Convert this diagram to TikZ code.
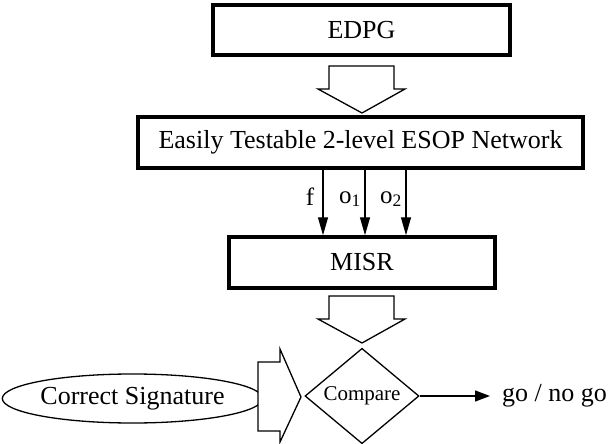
\documentclass[tikz,border=0pt]{standalone}
\usepackage{fontspec}
\setmainfont{Liberation Serif}
\usetikzlibrary{arrows.meta,shapes.geometric}

\tikzset{
  blockbox/.style={draw, line width=3.5pt, rectangle, inner sep=0pt,
    font=\fontsize{26}{30}\selectfont},
  thinline/.style={line width=1.3pt},
  hollow/.style={draw, line width=1.3pt, fill=white, line join=miter},
  sigarrow/.style={line width=1.3pt, -{Triangle[length=18pt,width=10pt]}},
  outarrow/.style={line width=1.3pt, -{Triangle[length=15pt,width=11pt]}},
  siglabel/.style={font=\fontsize{25}{29}\selectfont, inner sep=0pt},
  bigtext/.style={font=\fontsize{26}{30}\selectfont},
}

\begin{document}
\begin{tikzpicture}[x=1pt, y=-1pt]
  \useasboundingbox (0,0) rectangle (616,444);

  % main processing chain
  \node[blockbox, minimum width=297pt, minimum height=50pt] (edpg) at (361.5,30) {EDPG};
  \node[blockbox, minimum width=445pt, minimum height=51pt] (esop) at (360.5,142.5)
    {Easily Testable 2-level ESOP Network};
  \node[blockbox, minimum width=266pt, minimum height=51pt] (misr) at (362,262.5) {MISR};

  % hollow block arrow EDPG -> ESOP network
  \draw[hollow] (329,66) -- (394,66) -- (394,89) -- (405,89) -- (362,113)
    -- (318,89) -- (329,89) -- cycle;

  % output lines f, o1, o2 into the MISR
  \draw[sigarrow] (esop.south -| 323,0) -- (misr.north -| 323,0);
  \draw[sigarrow] (esop.south -| 365,0) -- (misr.north -| 365,0);
  \draw[sigarrow] (esop.south -| 406,0) -- (misr.north -| 406,0);
  \node[siglabel] (lf) at (310,197) {f};
  \node[siglabel] (lo1) at (350,199) {o\textsubscript{1}};
  \node[siglabel] (lo2) at (391,199) {o\textsubscript{2}};

  % hollow block arrow MISR -> comparator
  \draw[hollow] (329,296) -- (394,296) -- (394,319) -- (405,319) -- (362,343)
    -- (318,319) -- (329,319) -- cycle;

  % comparator and reference signature
  \node[draw, thinline, diamond, minimum width=114pt, minimum height=92pt,
        inner sep=0pt, font=\fontsize{21}{25}\selectfont] (cmp) at (362,396) {Compare};
  \node[draw, thinline, ellipse, minimum width=240pt, minimum height=49pt,
        inner sep=0pt, bigtext] (sig) at (132.5,398.5) {Correct Signature};

  % hollow block arrow signature -> comparator
  \draw[hollow] (258,362) -- (280,362) -- (280,349) -- (301,397) -- (280,442)
    -- (280,431) -- (258,431) -- cycle;

  % verdict
  \node[bigtext, inner sep=0pt, anchor=west] (go) at (502,396) {go / no go};
  \draw[outarrow] (cmp.east) -- (go.west -| 490,0);
\end{tikzpicture}
\end{document}
